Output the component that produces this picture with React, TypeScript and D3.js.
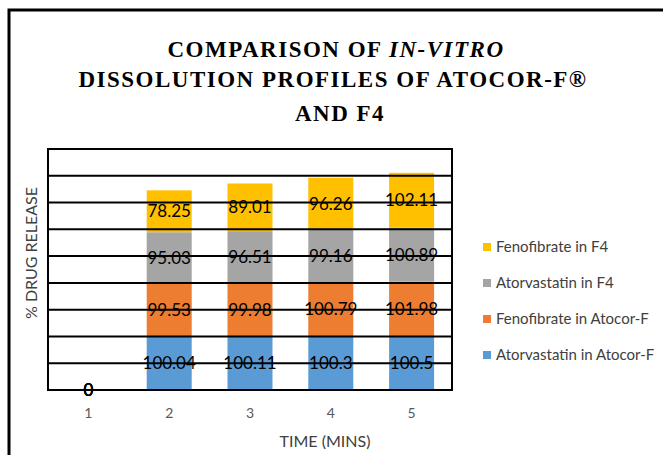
import React from "react";
import * as d3 from "d3";

// Sampling times (x categories)
const times = ["1", "2", "3", "4", "5"];

// Cumulative % drug release per series, stacked bottom to top
const atorvastatinAtocor = [0, 100.04, 100.11, 100.3, 100.5];
const fenofibrateAtocor = [0, 99.53, 99.98, 100.79, 101.98];
const atorvastatinF4 = [0, 95.03, 96.51, 99.16, 100.89];
const fenofibrateF4 = [0, 78.25, 89.01, 96.26, 102.11];

const seriesNames = [
  "Atorvastatin in Atocor-F",
  "Fenofibrate in Atocor-F",
  "Atorvastatin in F4",
  "Fenofibrate in F4",
];
const seriesColors = ["#5B9BD5", "#ED7D31", "#A5A5A5", "#FFC000"];

const yMax = 450;
const yStep = 50;

const W = 663;
const H = 455;
const plot = { left: 48, right: 452, top: 149, bottom: 390 };

export default function App() {
  const rows = times.map((t, i) => ({
    t,
    s0: atorvastatinAtocor[i],
    s1: fenofibrateAtocor[i],
    s2: atorvastatinF4[i],
    s3: fenofibrateF4[i],
  }));
  const keys = ["s0", "s1", "s2", "s3"];
  const stacked = d3.stack<any>().keys(keys)(rows);

  const x = d3
    .scaleBand<string>()
    .domain(times)
    .range([plot.left, plot.right])
    .paddingInner(0.443)
    .paddingOuter(0.2215);
  const y = d3.scaleLinear().domain([0, yMax]).range([plot.bottom, plot.top]);
  const gridValues = d3.range(yStep, yMax, yStep);

  const labelFont = "Lato, 'Open Sans', sans-serif";
  const titleFont = "'Liberation Serif', 'Times New Roman', serif";

  // legend is listed top-down in reverse stacking order
  const legendOrder = [3, 2, 1, 0];
  const legendY = d3.scalePoint<number>().domain(legendOrder).range([247, 355]);

  return (
    <svg
      width={W}
      height={H}
      style={{ position: "absolute", left: 0, top: 0, background: "#fff" }}
    >
      <rect x={0} y={0} width={W} height={H} fill="#fff" />
      {/* outer chart frame */}
      <path d={`M9,${H + 5} V10 H${W + 5}`} fill="none" stroke="#000" strokeWidth={3} />

      {/* title */}
      <g
        fontFamily={titleFont}
        fontWeight="bold"
        fontSize={23}
        letterSpacing={1.5}
        textAnchor="middle"
        fill="#000"
      >
        <text x={336} y={57}>
          COMPARISON OF <tspan fontStyle="italic">IN-VITRO</tspan>
        </text>
        <text x={333} y={87}>DISSOLUTION PROFILES OF ATOCOR-F®</text>
        <text x={340} y={121}>AND F4</text>
      </g>

      {/* stacked bars */}
      {stacked.map((layer, si) => (
        <g key={layer.key} fill={seriesColors[si]}>
          {layer.map((d, i) => (
            <rect
              key={i}
              x={x(times[i])}
              y={y(d[1])}
              width={x.bandwidth()}
              height={Math.max(0, y(d[0]) - y(d[1]))}
            />
          ))}
        </g>
      ))}

      {/* gridlines over the bars */}
      <g stroke="#000" strokeWidth={2}>
        {gridValues.map((v) => (
          <line key={v} x1={plot.left} x2={plot.right} y1={y(v)} y2={y(v)} />
        ))}
      </g>
      <rect
        x={plot.left}
        y={plot.top}
        width={plot.right - plot.left}
        height={plot.bottom - plot.top}
        fill="none"
        stroke="#000"
        strokeWidth={2}
      />

      {/* data labels */}
      <g fontFamily={labelFont} fontSize={17} fill="#000" textAnchor="middle">
        {stacked.map((layer, si) =>
          layer.map((d, i) => (
            <text
              key={`${si}-${i}`}
              x={(x(times[i]) as number) + x.bandwidth() / 2}
              y={(y(d[0]) + y(d[1])) / 2}
              dy="0.36em"
            >
              {String(rows[i][keys[si] as "s0"])}
            </text>
          ))
        )}
      </g>

      {/* x tick labels */}
      <g fontFamily={labelFont} fontSize={14} fill="#595959" textAnchor="middle">
        {times.map((t) => (
          <text key={t} x={(x(t) as number) + x.bandwidth() / 2} y={418}>
            {t}
          </text>
        ))}
      </g>

      {/* axis titles */}
      <text
        x={325}
        y={447}
        fontFamily={labelFont}
        fontSize={16}
        fill="#404040"
        textAnchor="middle"
      >
        TIME (MINS)
      </text>
      <text
        transform="translate(37,253) rotate(-90)"
        fontFamily={labelFont}
        fontSize={16}
        fill="#404040"
        textAnchor="middle"
      >
        % DRUG RELEASE
      </text>

      {/* legend */}
      <g fontFamily={labelFont} fontSize={15} fill="#404040">
        {legendOrder.map((si) => (
          <g key={si} transform={`translate(483,${legendY(si)})`}>
            <rect x={0} y={-4} width={8} height={8} fill={seriesColors[si]} />
            <text x={13} y={0} dy="0.36em">
              {seriesNames[si]}
            </text>
          </g>
        ))}
      </g>
    </svg>
  );
}
